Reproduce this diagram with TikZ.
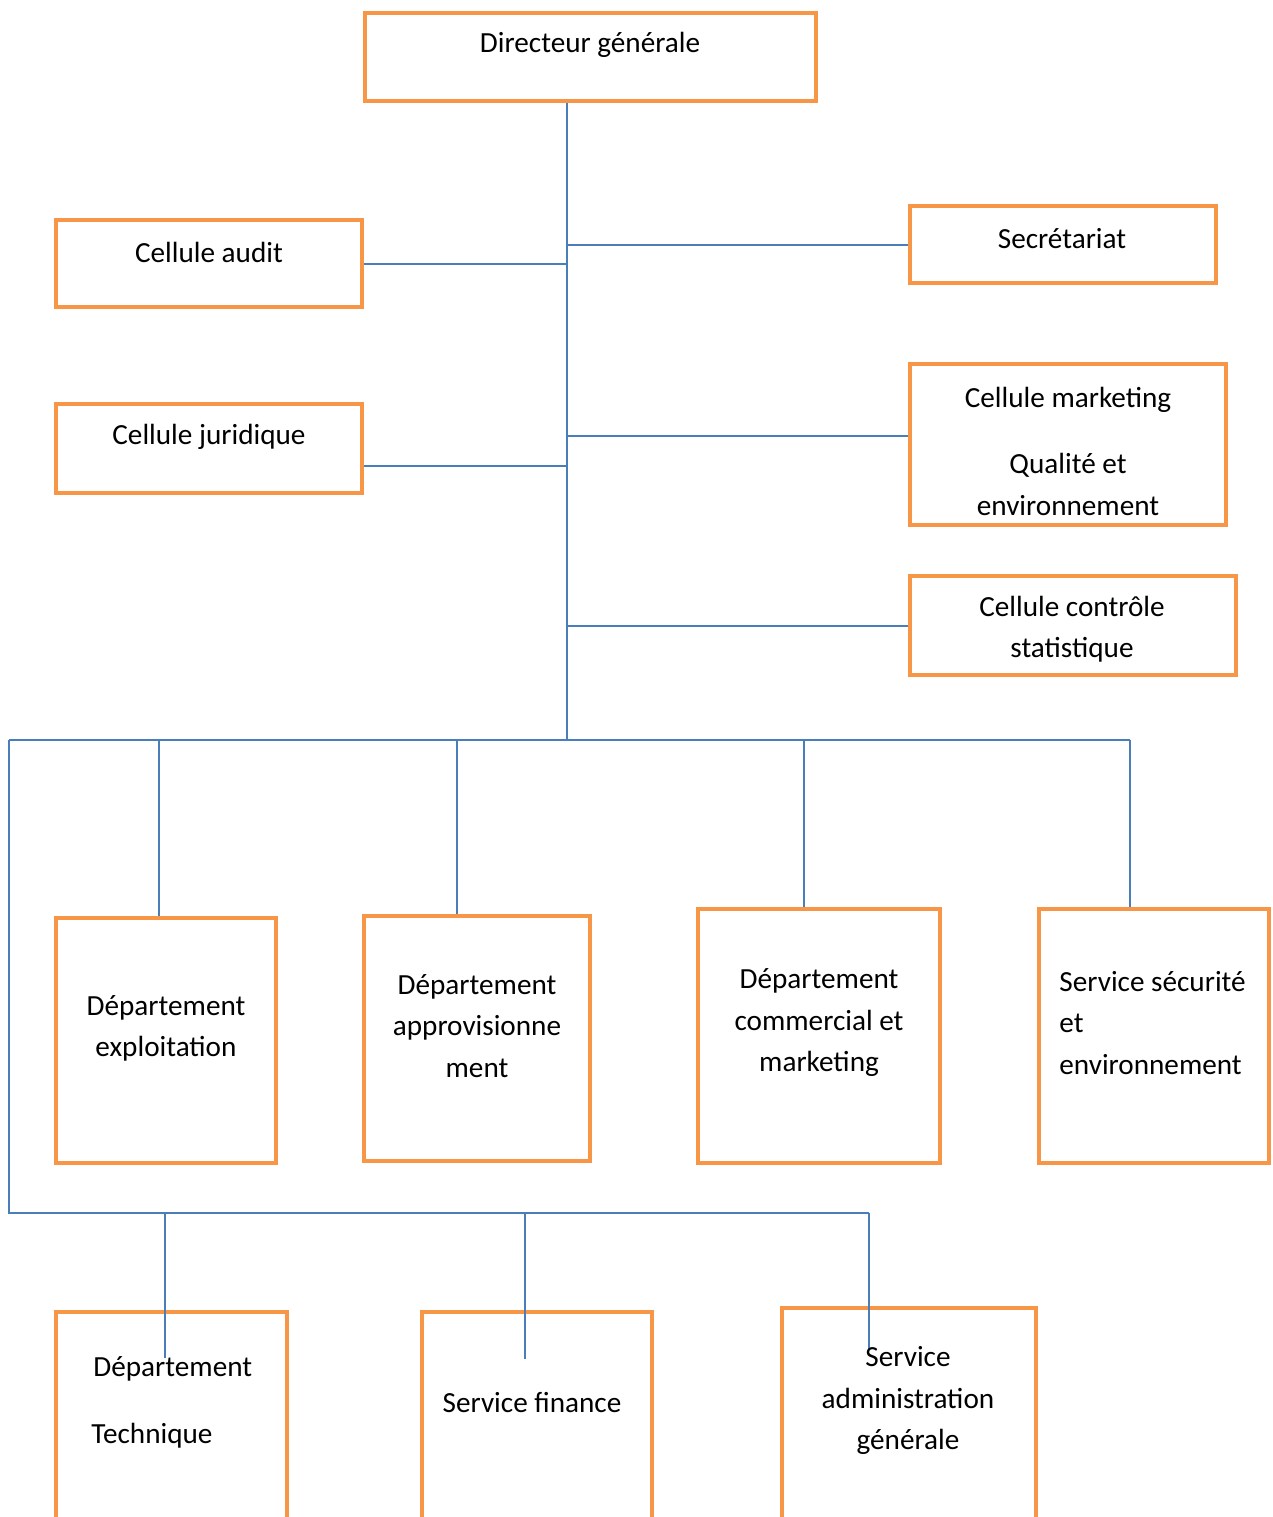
\documentclass[tikz,border=0pt]{standalone}
\usepackage{fontspec}
\setmainfont{Carlito}
\definecolor{boxorange}{HTML}{F79646}
\definecolor{linkblue}{HTML}{4A7EBB}

\begin{document}
\begin{tikzpicture}[x=0.5pt,y=-0.5pt]
    \tikzset{box/.style = {draw=boxorange, line width=2.3pt, inner sep=0pt}}
    \tikzset{txt/.style = {inner sep=0pt, align=center, yshift=-1.25pt, font=\fontsize{14.6}{20.75}\selectfont}}
    \tikzset{link/.style = {draw=linkblue, line width=1pt}}

    \useasboundingbox (0,0) rectangle (1273,1517);

    % boxes
    \node[box, minimum width=225.5pt, minimum height=44pt] (dg) at (590.5,57) {};
    \node[box, minimum width=153pt, minimum height=43.5pt] (audit) at (209,263.5) {};
    \node[box, minimum width=153pt, minimum height=38.5pt] (secr) at (1063,244.5) {};
    \node[box, minimum width=153pt, minimum height=44.5pt] (jur) at (209,448.5) {};
    \node[box, minimum width=158pt, minimum height=80.5pt] (mkt) at (1068,444.5) {};
    \node[box, minimum width=163pt, minimum height=49.5pt] (ctrl) at (1073,625.5) {};
    \node[box, minimum width=110pt, minimum height=122.5pt] (expl) at (166,1040.5) {};
    \node[box, minimum width=113pt, minimum height=122.5pt] (appro) at (477,1038.5) {};
    \node[box, minimum width=121pt, minimum height=127pt] (comm) at (819,1036) {};
    \node[box, minimum width=115pt, minimum height=127pt] (secu) at (1154,1036) {};
    \node[box, minimum width=115.5pt, minimum height=114pt] (tech) at (171.5,1426) {};
    \node[box, minimum width=115pt, minimum height=114pt] (fin) at (537,1426) {};
    \node[box, minimum width=127pt, minimum height=116pt] (adm) at (909,1424) {};

    % branch points
    \coordinate (hub) at (567,740);
    \coordinate (jpt) at (567,466);
    \coordinate (mpt) at (567,436);
    \coordinate (barL) at (9,740);
    \coordinate (barR) at (1130,740);
    \coordinate (lowL) at (9,1213);
    \coordinate (lowR) at (869,1213);
    \coordinate (d1) at (159,740);
    \coordinate (d2) at (457,740);
    \coordinate (d3) at (804,740);
    \coordinate (e1) at (165,1358);
    \coordinate (e2) at (525,1359);
    \coordinate (e3) at (869,1350);

    % edges
    \draw[link] (dg.south -| hub) -- (hub);
    \draw[link] (audit.east) -- (audit.east -| hub);
    \draw[link] (secr.west) -- (secr.west -| hub);
    \draw[link] (jur.east |- jpt) -- (jpt);
    \draw[link] (mpt) -- (mkt.west |- mpt);
    \draw[link] (ctrl.west) -- (ctrl.west -| hub);
    \draw[link, line width=1.3pt] (barL) -- (barR);
    \draw[link] (barL) -- (lowL) -- (lowR);
    \draw[link] (d1) -- (d1 |- expl.north);
    \draw[link] (d2) -- (d2 |- appro.north);
    \draw[link] (d3) -- (d3 |- comm.north);
    \draw[link] (barR) -- (barR |- secu.north);
    \draw[link] (e1 |- lowL) -- (e1);
    \draw[link] (e2 |- lowL) -- (e2);
    \draw[link] (lowR) -- (e3);

    % texts
    \node[txt] (dgt) at (590,42) {Directeur générale};
    \node[txt] (auditt) at (209,250) {Cellule audit};
    \node[txt] (secrt) at (1062,236) {Secrétariat};
    \node[txt] (jurt) at (209,434) {Cellule juridique};
    \node[txt] (mktt) at (1068,448.5) {Cellule marketing\\[12.5pt]Qualité et\\environnement};
    \node[txt] (ctrlt) at (1072,626.5) {Cellule contrôle\\statistique};
    \node[txt] (explt) at (166,1026) {Département\\exploitation};
    \node[txt] (approt) at (477,1023.5) {Département\\approvisionne\\ment};
    \node[txt] (commt) at (819,1020.5) {Département\\commercial et\\marketing};
    \node[txt, align=left, anchor=west] (secut) at (1059,1020.5) {Service sécurité\\et\\environnement};
    \node[txt, align=left, anchor=west] (techt) at (91,1400) {\hspace{1pt}Département\\[13pt]Technique};
    \node[txt] (fint) at (532,1400) {Service finance};
    \node[txt] (admt) at (908,1398) {Service\\administration\\générale};
\end{tikzpicture}
\end{document}
